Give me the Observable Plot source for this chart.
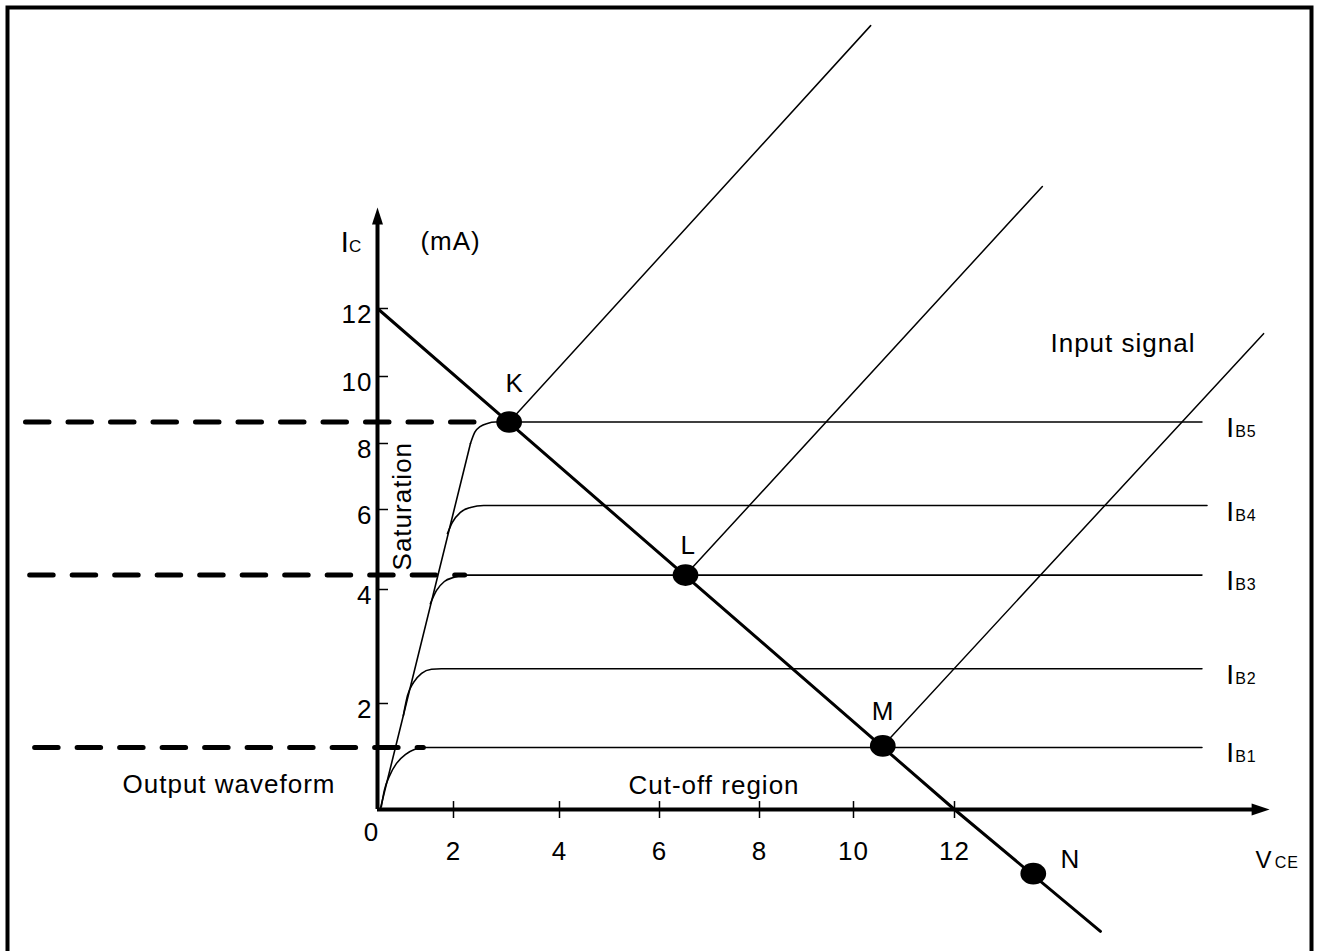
<!DOCTYPE html>
<html>
<head>
<meta charset="utf-8">
<script src="https://cdn.jsdelivr.net/npm/d3@7"></script>
<script src="https://cdn.jsdelivr.net/npm/@observablehq/plot@0.6"></script>
<style>
  html, body { margin: 0; padding: 0; background: #fff; overflow: hidden; }
  svg { display: block; }
  svg text { letter-spacing: 1px; }
</style>
</head>
<body>
<div id="chart"></div>
<script>
// ---------- data (VCE in V, IC in mA) ----------
const scaleTicks = [0, 2, 4, 6, 8, 10, 12];
const xTicks = [2, 4, 6, 8, 10, 12];
const yTicks = [2, 4, 6, 8, 10, 12];

const seriesNames = ["B1", "B2", "B3", "B4", "B5"];
const ibLevels = [1.17, 2.61, 4.36, 6.12, 8.64];

const ib1V = [0.10, 0.18, 0.32, 0.50, 0.74, 0.97, 1.26, 16.9];
const ib1I = [0.05, 0.36, 0.64, 0.87, 1.04, 1.13, 1.17, 1.17];
const ib2V = [0.68, 0.79, 0.95, 1.16, 1.42, 1.68, 16.9];
const ib2I = [1.77, 2.14, 2.37, 2.53, 2.60, 2.61, 2.61];
const ib3V = [1.39, 1.55, 1.76, 2.00, 2.19, 16.9];
const ib3I = [3.75, 3.98, 4.20, 4.30, 4.36, 4.36];
const ib4V = [1.84, 1.97, 2.13, 2.32, 2.57, 17.0];
const ib4I = [5.40, 5.68, 5.93, 6.06, 6.12, 6.12];
const ib5V = [2.32, 2.40, 2.51, 2.64, 2.79, 16.9];
const ib5I = [8.00, 8.33, 8.51, 8.60, 8.64, 8.64];

const satV = [0.08, 2.32];
const satI = [0.03, 8.00];

const loadV = [0, 12, 14.89];
const loadI = [12, 0, -2.3];

const opNames = ["K", "L", "M", "N"];
const opV = [3.05, 6.52, 10.58, 13.56];
const opI = [8.64, 4.36, 1.20, -1.21];

const inputStartV = [3.05, 6.52, 10.58];
const inputStartI = [8.64, 4.36, 1.20];
const inputEndV = [10.34, 13.74, 18.12];
const inputEndI = [20.32, 15.59, 11.26];

const dashI = [8.64, 4.36, 1.17];
const dashFromV = [-9.25, -9.14, -9.01];
const dashToV = [2.41, 2.22, 1.22];

const opLabelV = [2.98, 6.42, 10.36, 14.10];
const opLabelI = [9.55, 4.90, 1.68, -1.11];

const noteText = ["(mA)", "Input signal", "Output waveform", "Cut-off region"];
const noteV = [1.13, 13.90, -6.71, 5.38];
const noteI = [13.71, 10.71, 0.32, 0.30];

// ---------- tables ----------
const curveV = [ib1V, ib2V, ib3V, ib4V, ib5V];
const curveI = [ib1I, ib2I, ib3I, ib4I, ib5I];
const curveRows = [];
seriesNames.forEach((s, k) => curveV[k].forEach((v, i) => curveRows.push({series: s, V: v, I: curveI[k][i]})));
const satRows = satV.map((v, i) => ({V: v, I: satI[i]}));
const loadRows = loadV.map((v, i) => ({V: v, I: loadI[i]}));
const opRows = opNames.map((n, i) => ({name: n, V: opV[i], I: opI[i], lv: opLabelV[i], li: opLabelI[i]}));
const inputRows = [];
inputStartV.forEach((v, i) => {
  inputRows.push({k: i, V: v, I: inputStartI[i]});
  inputRows.push({k: i, V: inputEndV[i], I: inputEndI[i]});
});
const dashRows = dashI.map((c, i) => ({I: c, x1: dashFromV[i], x2: dashToV[i]}));
const noteRows = noteText.map((t, i) => ({t, V: noteV[i], I: noteI[i]}));
const ibLabelRows = seriesNames.map((s, i) => ({s, I: ibLevels[i]}));

const arrowUp = {draw(ctx) { ctx.moveTo(0, 0); ctx.lineTo(-5.5, 17); ctx.lineTo(5.5, 17); ctx.closePath(); }};
const arrowRight = {draw(ctx) { ctx.moveTo(0, 0); ctx.lineTo(-18, -6); ctx.lineTo(-18, 6); ctx.closePath(); }};
const ellipse = {draw(ctx, size) {
  const r = Math.sqrt(size / Math.PI), rx = r * 1.17, ry = r * 0.98, k = 0.5523;
  ctx.moveTo(rx, 0);
  ctx.bezierCurveTo(rx, ry * k, rx * k, ry, 0, ry);
  ctx.bezierCurveTo(-rx * k, ry, -rx, ry * k, -rx, 0);
  ctx.bezierCurveTo(-rx, -ry * k, -rx * k, -ry, 0, -ry);
  ctx.bezierCurveTo(rx * k, -ry, rx, -ry * k, rx, 0);
  ctx.closePath();
}};

const FONT = "'Liberation Sans', Arial, sans-serif";

const chart = Plot.plot({
  width: 1319,
  height: 951,
  marginTop: 7, marginLeft: 7, marginRight: 8, marginBottom: 0,
  style: {fontFamily: FONT, background: "white", color: "black"},
  x: {type: "linear", domain: scaleTicks, range: [377, 453, 559, 659, 759, 853, 954], axis: null},
  y: {type: "linear", domain: scaleTicks, range: [809, 703, 589, 509, 443, 376, 308], axis: null},
  marks: [
    Plot.frame({stroke: "black", strokeWidth: 4, insetBottom: -6}),
    // dashed projections
    Plot.ruleY(dashRows, {y: "I", x1: "x1", x2: "x2", stroke: "black", strokeWidth: 5, strokeDasharray: "23.5,19", strokeLinecap: "round"}),
    // characteristic curves
    Plot.line(satRows, {x: "V", y: "I", stroke: "black", strokeWidth: 1.6}),
    Plot.line(curveRows, {x: "V", y: "I", z: "series", curve: "monotone-x", stroke: "black", strokeWidth: 1.6}),
    // input signal lines
    Plot.line(inputRows, {x: "V", y: "I", z: "k", stroke: "black", strokeWidth: 1.5}),
    // load line
    Plot.line(loadRows, {x: "V", y: "I", stroke: "black", strokeWidth: 3}),
    // axes
    Plot.ruleX([0], {y1: 0, y2: 14.6, stroke: "black", strokeWidth: 4}),
    Plot.ruleY([0], {x1: 0, x2: 17.95, stroke: "black", strokeWidth: 4}),
    Plot.dot([{V: 0, I: 14.97}], {x: "V", y: "I", symbol: arrowUp, fill: "black", stroke: null, r: 5}),
    Plot.dot([{V: 18.24, I: 0}], {x: "V", y: "I", symbol: arrowRight, fill: "black", stroke: null, r: 5}),
    Plot.ruleY(yTicks, {y: d => d, x1: 0, x2: 0.29, stroke: "black", strokeWidth: 1.5}),
    Plot.ruleX(xTicks, {x: d => d, y1: -0.17, y2: 0.15, stroke: "black", strokeWidth: 1.5}),
    Plot.text(xTicks, {x: d => d, y: 0, dy: 42, text: d => String(d), fontSize: 26, fill: "black"}),
    Plot.text([0], {x: 0, y: 0, dx: -6, dy: 23, text: d => String(d), fontSize: 26, fill: "black"}),
    Plot.text(yTicks, {x: 0, y: d => d, dx: -5, dy: 6, text: d => String(d), textAnchor: "end", fontSize: 26, fill: "black"}),
    // operating points
    Plot.dot(opRows, {x: "V", y: "I", symbol: ellipse, r: 11, fill: "black", stroke: null}),
    Plot.text(opRows, {x: "lv", y: "li", text: "name", textAnchor: "start", lineAnchor: "bottom", fontSize: 26, fill: "black"}),
    // notes
    Plot.text(noteRows, {x: "V", y: "I", text: "t", textAnchor: "start", lineAnchor: "bottom", fontSize: 26, fill: "black"}),
    Plot.text(["Saturation"], {x: 0.87, y: 6.1, text: d => d, rotate: -90, textAnchor: "middle", lineAnchor: "bottom", fontSize: 26, fill: "black"}),
    // axis names
    Plot.text(["I"], {x: -0.97, y: 13.65, text: d => d, textAnchor: "start", lineAnchor: "bottom", fontSize: 29, fill: "black"}),
    Plot.text(["C"], {x: -0.75, y: 13.65, text: d => d, textAnchor: "start", lineAnchor: "bottom", fontSize: 17, fill: "black"}),
    Plot.text(["V"], {x: 17.96, y: -1.11, text: d => d, textAnchor: "start", lineAnchor: "bottom", fontSize: 24, fill: "black"}),
    Plot.text(["CE"], {x: 18.34, y: -1.11, text: d => d, textAnchor: "start", lineAnchor: "bottom", fontSize: 16, fill: "black"}),
    // IB labels
    Plot.text(ibLabelRows, {x: 17.38, y: "I", dy: 15, text: () => "I", textAnchor: "start", lineAnchor: "bottom", fontSize: 28, fill: "black"}),
    Plot.text(ibLabelRows, {x: 17.38, y: "I", dx: 9, dy: 15, text: "s", textAnchor: "start", lineAnchor: "bottom", fontSize: 16, fill: "black"})
  ]
});
document.getElementById("chart").appendChild(chart);
</script>
</body>
</html>
